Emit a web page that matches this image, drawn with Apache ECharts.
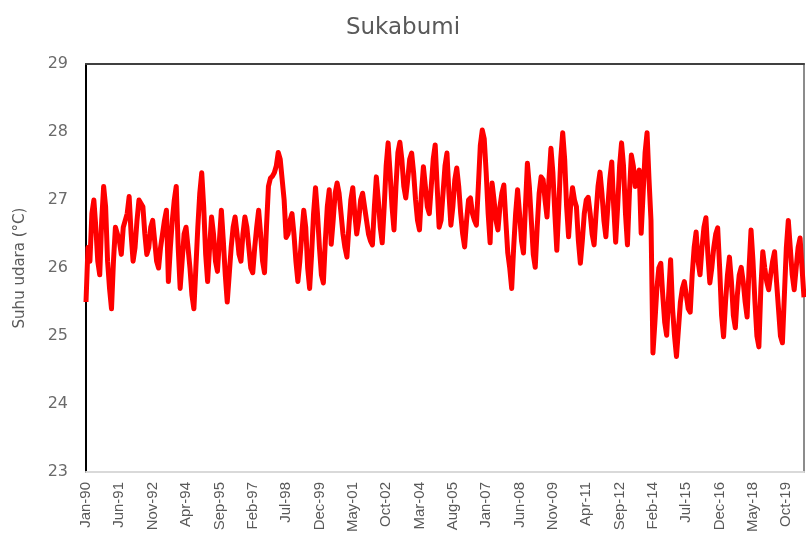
<!DOCTYPE html>
<html>
<head>
<meta charset="utf-8">
<script src="https://cdn.jsdelivr.net/npm/echarts@6/dist/echarts.min.js"></script>
<style>html,body{margin:0;padding:0;background:#fff}#c{width:806px;height:535px}</style>
</head>
<body>
<div id="c"></div>
<script>
// Monthly air temperature, Sukabumi, Jan-1990 onwards
const monthNames = ['Jan','Feb','Mar','Apr','May','Jun','Jul','Aug','Sep','Oct','Nov','Dec'];
const startYear = 1990;
const temps1990s = [
  25.5,26.3,26.1,26.8,27.0,26.6,26.1,25.9,26.7,27.2,26.9,26.1,
  25.7,25.4,26.1,26.6,26.5,26.4,26.2,26.6,26.6,26.8,27.05,26.5,
  26.1,26.3,26.7,27.0,27.0,26.9,26.5,26.2,26.3,26.6,26.7,26.4,
  26.1,26.0,26.3,26.5,26.7,26.85,25.8,26.3,26.7,27.0,27.2,26.3,
  25.7,26.1,26.5,26.6,26.3,26.0,25.6,25.4,26.0,26.6,27.1,27.4,
  26.9,26.2,25.8,26.3,26.75,26.5,26.1,25.95,26.4,26.85,26.4,25.9,
  25.5,25.9,26.3,26.6,26.75,26.5,26.2,26.1,26.5,26.75,26.6,26.3,
  26.0,25.93,26.3,26.6,26.85,26.5,26.1,25.93,26.6,27.2,27.32,27.35,
  27.4,27.5,27.7,27.6,27.6,27.0,26.45,26.5,26.7,26.8,26.5,26.1,
  25.8,26.1,26.5,26.85,26.6,26.0,25.7,26.2,26.8,27.18,26.8,26.3
];
const temps2000s = [
  25.9,25.78,26.4,26.9,27.15,26.35,26.7,27.1,27.25,27.1,26.8,26.5,
  26.3,26.16,26.6,27.0,27.18,26.8,26.5,26.7,27.0,27.1,26.9,26.7,
  26.5,26.4,26.34,26.9,27.34,27.0,26.6,26.37,26.9,27.5,27.84,27.4,
  26.9,26.56,27.2,27.7,27.85,27.6,27.2,27.03,27.3,27.6,27.69,27.4,
  27.0,26.7,26.56,27.1,27.49,27.2,26.9,26.8,27.2,27.6,27.81,27.2,
  26.6,26.7,27.1,27.5,27.69,27.1,26.63,26.9,27.3,27.47,27.2,26.8,
  26.5,26.31,26.7,27.0,27.03,26.8,26.7,26.63,27.2,27.8,28.03,27.9,
  27.4,26.8,26.37,27.25,27.0,26.7,26.56,26.9,27.1,27.22,26.7,26.22,
  26.0,25.7,26.3,26.8,27.15,26.8,26.4,26.22,26.9,27.54,27.2,26.7,
  26.2,26.01,26.6,27.1,27.34,27.3,27.0,26.75,27.3,27.76,27.4,26.8
];
const temps2010s = [
  26.26,26.9,27.6,27.99,27.6,26.9,26.46,26.9,27.18,27.0,26.9,26.4,
  26.07,26.4,26.8,27.0,27.04,26.8,26.5,26.34,26.8,27.2,27.41,27.1,
  26.7,26.46,26.9,27.3,27.56,26.9,26.38,26.9,27.5,27.84,27.5,26.8,
  26.34,27.1,27.66,27.5,27.2,27.35,27.44,26.51,27.1,27.7,27.99,27.3,
  26.7,24.75,25.2,25.7,26.0,26.07,25.6,25.2,25.01,25.6,26.12,25.4,
  25.0,24.7,25.1,25.5,25.7,25.8,25.6,25.4,25.35,25.9,26.3,26.53,
  26.1,25.9,26.3,26.6,26.74,26.2,25.78,26.0,26.3,26.5,26.59,26.0,
  25.3,24.99,25.5,25.9,26.16,25.8,25.3,25.12,25.6,25.9,26.01,25.8,
  25.5,25.28,26.0,26.56,26.1,25.5,25.0,24.84,25.7,26.24,26.0,25.8,
  25.68,25.9,26.1,26.24,25.8,25.4,25.0,24.9,25.6,26.3,26.7,26.3
];
const temps2020s = [25.9,25.68,26.0,26.3,26.44,26.0,25.57];
const values = temps1990s.concat(temps2000s, temps2010s, temps2020s);
const categories = values.map((v, i) =>
  monthNames[i % 12] + '-' + String((startYear + Math.floor(i / 12)) % 100).padStart(2, '0'));
const yTicks = [23, 24, 25, 26, 27, 28, 29];

const chart = echarts.init(document.getElementById('c'), null, {renderer: 'canvas'});
chart.setOption({
  animation: false,
  backgroundColor: '#ffffff',
  title: {
    text: 'Sukabumi', left: 'center', top: 12,
    textStyle: {fontFamily: 'DejaVu Sans', fontSize: 23, fontWeight: 'normal', color: '#595959'}
  },
  grid: {left: 86, right: 2, top: 64, bottom: 63, containLabel: false},
  xAxis: [{
    type: 'category', data: categories, boundaryGap: false, position: 'bottom',
    axisLine: {show: true, lineStyle: {color: '#d9d9d9', width: 2}},
    axisTick: {show: false},
    axisLabel: {interval: 16, rotate: 90, margin: 10, color: '#595959',
      fontFamily: 'Liberation Sans, Arial, sans-serif', fontSize: 15},
    splitLine: {show: false}
  }, {
    type: 'category', data: categories, boundaryGap: false, position: 'top',
    axisLine: {show: true, lineStyle: {color: '#404040', width: 2}},
    axisTick: {show: false}, axisLabel: {show: false}, splitLine: {show: false}
  }],
  yAxis: [{
    type: 'value', min: yTicks[0], max: yTicks[yTicks.length - 1], interval: 1,
    position: 'left',
    name: 'Suhu udara (°C)', nameLocation: 'middle', nameGap: 58,
    nameTextStyle: {fontFamily: 'DejaVu Sans', fontSize: 15, color: '#595959'},
    axisLine: {show: true, lineStyle: {color: '#000000', width: 2}},
    axisTick: {show: false},
    axisLabel: {margin: 18, color: '#6a6a6a', fontFamily: 'DejaVu Sans', fontSize: 16},
    splitLine: {show: false}
  }, {
    type: 'value', min: yTicks[0], max: yTicks[yTicks.length - 1], interval: 1,
    position: 'right',
    axisLine: {show: true, lineStyle: {color: '#8c8c8c', width: 2}},
    axisTick: {show: false}, axisLabel: {show: false}, splitLine: {show: false}
  }],
  series: [{
    type: 'line', data: values, xAxisIndex: 0, yAxisIndex: 0,
    showSymbol: false, symbol: 'none', smooth: false,
    lineStyle: {color: '#ff0000', width: 5, join: 'round'},
    z: 3
  }]
});
</script>
</body>
</html>
